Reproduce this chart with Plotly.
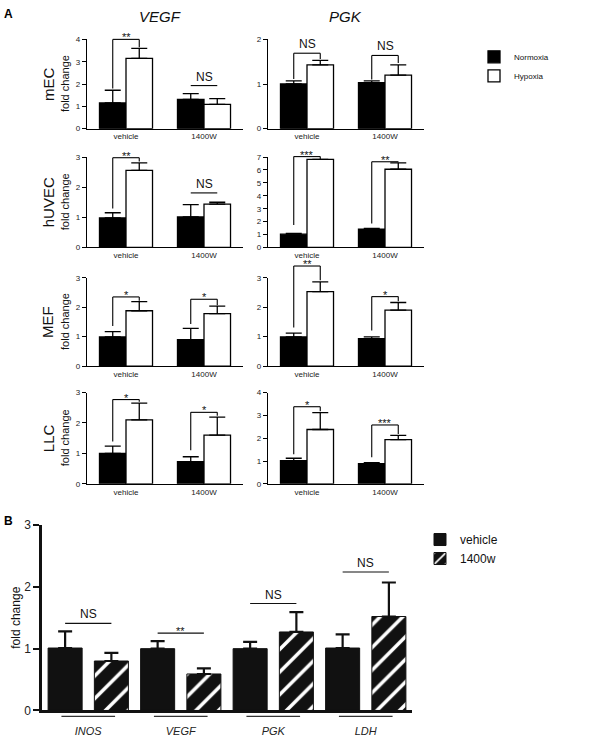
import plotly.graph_objects as go

W, H = 607, 741
FONT = "Arial, Liberation Sans, Helvetica, sans-serif"

# ---------------- Panel A data ----------------
treatments = ["vehicle", "1400W"]
cell_lines = ["mEC", "hUVEC", "MEF", "LLC"]
genes_A = ["VEGF", "PGK"]
ymax_VEGF = [4, 3, 3, 3]
ymax_PGK = [2, 7, 3, 4]

mEC_VEGF_normoxia = [1.15, 1.31]
mEC_VEGF_normoxia_sem = [0.57, 0.26]
mEC_VEGF_hypoxia = [3.15, 1.09]
mEC_VEGF_hypoxia_sem = [0.45, 0.26]
mEC_PGK_normoxia = [1.00, 1.03]
mEC_PGK_normoxia_sem = [0.07, 0.04]
mEC_PGK_hypoxia = [1.43, 1.20]
mEC_PGK_hypoxia_sem = [0.10, 0.23]

hUVEC_VEGF_normoxia = [0.98, 1.01]
hUVEC_VEGF_normoxia_sem = [0.17, 0.41]
hUVEC_VEGF_hypoxia = [2.56, 1.44]
hUVEC_VEGF_hypoxia_sem = [0.25, 0.06]
hUVEC_PGK_normoxia = [1.02, 1.42]
hUVEC_PGK_normoxia_sem = [0.07, 0.06]
hUVEC_PGK_hypoxia = [6.82, 6.06]
hUVEC_PGK_hypoxia_sem = [0.0, 0.50]

MEF_VEGF_normoxia = [0.99, 0.90]
MEF_VEGF_normoxia_sem = [0.18, 0.38]
MEF_VEGF_hypoxia = [1.88, 1.78]
MEF_VEGF_hypoxia_sem = [0.31, 0.26]
MEF_PGK_normoxia = [0.99, 0.93]
MEF_PGK_normoxia_sem = [0.13, 0.06]
MEF_PGK_hypoxia = [2.53, 1.90]
MEF_PGK_hypoxia_sem = [0.33, 0.26]

LLC_VEGF_normoxia = [1.00, 0.73]
LLC_VEGF_normoxia_sem = [0.24, 0.16]
LLC_VEGF_hypoxia = [2.10, 1.60]
LLC_VEGF_hypoxia_sem = [0.55, 0.59]
LLC_PGK_normoxia = [1.02, 0.88]
LLC_PGK_normoxia_sem = [0.10, 0.05]
LLC_PGK_hypoxia = [2.38, 1.94]
LLC_PGK_hypoxia_sem = [0.74, 0.18]

# significance: label, bracket height, left-leg end, right-leg end (None = plain line)
mEC_VEGF_sig = ["**", "NS"]
mEC_VEGF_sig_y = [4.0, 1.93]
mEC_VEGF_leg_left = [1.80, None]
mEC_VEGF_leg_right = [3.65, None]
mEC_PGK_sig = ["NS", "NS"]
mEC_PGK_sig_y = [1.69, 1.64]
mEC_PGK_leg_left = [1.11, 1.10]
mEC_PGK_leg_right = [1.56, 1.47]

hUVEC_VEGF_sig = ["**", "NS"]
hUVEC_VEGF_sig_y = [2.98, 1.81]
hUVEC_VEGF_leg_left = [1.29, None]
hUVEC_VEGF_leg_right = [2.85, None]
hUVEC_PGK_sig = ["***", "**"]
hUVEC_PGK_sig_y = [7.04, 6.64]
hUVEC_PGK_leg_left = [1.73, 1.86]
hUVEC_PGK_leg_right = [6.85, 6.60]

MEF_VEGF_sig = ["*", "*"]
MEF_VEGF_sig_y = [2.35, 2.27]
MEF_VEGF_leg_left = [1.36, 1.43]
MEF_VEGF_leg_right = [2.22, 2.07]
MEF_PGK_sig = ["**", "*"]
MEF_PGK_sig_y = [3.40, 2.36]
MEF_PGK_leg_left = [1.31, 1.21]
MEF_PGK_leg_right = [2.92, 2.20]

LLC_VEGF_sig = ["*", "*"]
LLC_VEGF_sig_y = [2.77, 2.35]
LLC_VEGF_leg_left = [1.39, 1.10]
LLC_VEGF_leg_right = [2.70, 2.24]
LLC_PGK_sig = ["*", "***"]
LLC_PGK_sig_y = [3.38, 2.58]
LLC_PGK_leg_left = [1.30, 1.17]
LLC_PGK_leg_right = [3.18, 2.18]

# ---------------- Panel B data ----------------
genes_B = ["INOS", "VEGF", "PGK", "LDH"]
vehicle_B = [1.01, 1.00, 1.00, 1.01]
vehicle_B_sem = [0.27, 0.12, 0.11, 0.22]
w1400_B = [0.80, 0.59, 1.27, 1.52]
w1400_B_sem = [0.13, 0.09, 0.32, 0.55]
sig_B = ["NS", "**", "NS", "NS"]
sig_B_y = [1.41, 1.25, 1.73, 2.24]

# ---------------- assemble ----------------
G = globals()
cols_px = [(87, 243), (268, 424)]
rows_px = [(33, 124), (153, 245), (276, 366), (393, 486)]
B_x_px = (42, 412)
B_y_px = (528, 717)

fig = go.Figure()
shapes = []
annotations = []
layout = {}

BW = 0.34  # bar width (category units)


def paper_text(text, xpx, ypx, size, angle=0, color="#111"):
    return dict(text=text, x=xpx / W, y=1 - ypx / H, xref="paper", yref="paper",
                xanchor="center", yanchor="middle", textangle=angle, showarrow=False,
                font=dict(size=size, color=color))


for r, cell in enumerate(cell_lines):
    for c, gene in enumerate(genes_A):
        k = r * 2 + c + 1
        xa = "x" if k == 1 else f"x{k}"
        ya = "y" if k == 1 else f"y{k}"
        ymax = (ymax_VEGF if gene == "VEGF" else ymax_PGK)[r]
        pre = f"{cell}_{gene}_"
        norm, norm_sem = G[pre + "normoxia"], G[pre + "normoxia_sem"]
        hyp, hyp_sem = G[pre + "hypoxia"], G[pre + "hypoxia_sem"]
        sig, sig_y = G[pre + "sig"], G[pre + "sig_y"]
        legL, legR = G[pre + "leg_left"], G[pre + "leg_right"]

        fig.add_trace(go.Bar(
            x=treatments, y=norm, name="Normoxia", xaxis=xa, yaxis=ya,
            width=BW, offset=-BW, legend="legend", showlegend=(k == 1),
            marker=dict(color="black", line=dict(color="black", width=1.3)),
            error_y=dict(type="data", array=norm_sem, arrayminus=[0] * len(norm),
                         symmetric=False, color="black", thickness=1.3, width=8),
        ))
        fig.add_trace(go.Bar(
            x=treatments, y=hyp, name="Hypoxia", xaxis=xa, yaxis=ya,
            width=BW, offset=0, legend="legend", showlegend=(k == 1),
            marker=dict(color="white", line=dict(color="black", width=1.3)),
            error_y=dict(type="data", array=hyp_sem, arrayminus=[0] * len(hyp),
                         symmetric=False, color="black", thickness=1.3, width=8),
        ))

        x0, x1 = cols_px[c]
        y0, y1 = rows_px[r]
        layout["xaxis" + ("" if k == 1 else str(k))] = dict(
            domain=[x0 / W, x1 / W], anchor=ya, type="category",
            categoryarray=treatments, range=[-0.5, 1.5],
            showline=True, linecolor="black", linewidth=1.3, ticks="",
            tickfont=dict(size=8, color="#222"), showgrid=False, zeroline=False,
        )
        layout["yaxis" + ("" if k == 1 else str(k))] = dict(
            domain=[1 - y1 / H, 1 - y0 / H], anchor=xa, range=[0, ymax],
            tick0=0, dtick=1, ticks="outside", ticklen=4, tickwidth=1,
            tickcolor="black", showline=True, linecolor="black", linewidth=1.3,
            tickfont=dict(size=8, color="#222"), showgrid=False, zeroline=False,
        )

        yd = f"{ya} domain"
        for i in range(len(treatments)):
            xn, xh = i - BW / 2, i + BW / 2
            top = sig_y[i] / ymax
            ln = dict(color="black", width=1.1)
            shapes.append(dict(type="line", xref=xa, yref=yd, x0=xn, x1=xh,
                               y0=top, y1=top, line=ln))
            if legL[i] is not None:
                shapes.append(dict(type="line", xref=xa, yref=yd, x0=xn, x1=xn,
                                   y0=legL[i] / ymax, y1=top, line=ln))
                shapes.append(dict(type="line", xref=xa, yref=yd, x0=xh, x1=xh,
                                   y0=legR[i] / ymax, y1=top, line=ln))
            is_star = "*" in sig[i]
            annotations.append(dict(
                text=sig[i], x=i, y=top, xref=xa, yref=yd, showarrow=False,
                xanchor="center", yanchor="bottom", yshift=-6 if is_star else 0,
                font=dict(size=11 if is_star else 12, color="#111"),
            ))

        if c == 0:
            ymid = (y0 + y1) / 2
            annotations.append(paper_text(cell, 48, ymid, 15, -90))
            annotations.append(paper_text("fold change", 65, ymid, 11, -90))

# column titles and panel letters
annotations.append(paper_text("<i>VEGF</i>", 160, 10, 15))
annotations.append(paper_text("<i>PGK</i>", 345, 10, 15))
annotations.append(paper_text("<b>A</b>", 8, 7, 12, color="black"))
annotations.append(paper_text("<b>B</b>", 8, 524, 12, color="black"))

# ---------------- Panel B ----------------
BWB = 0.368
fig.add_trace(go.Bar(
    x=genes_B, y=vehicle_B, name="vehicle", xaxis="x9", yaxis="y9",
    width=BWB, offset=-0.25 - BWB / 2, legend="legend2",
    marker=dict(color="#111", line=dict(color="#111", width=1)),
    error_y=dict(type="data", array=vehicle_B_sem, arrayminus=[0] * 4, symmetric=False,
                 color="#111", thickness=2.2, width=7),
))
fig.add_trace(go.Bar(
    x=genes_B, y=w1400_B, name="1400w", xaxis="x9", yaxis="y9",
    width=BWB, offset=0.25 - BWB / 2, legend="legend2",
    marker=dict(color="#111", line=dict(color="#111", width=1),
                pattern=dict(shape="/", fgcolor="white", bgcolor="#111",
                             size=16, solidity=0.22, fillmode="replace")),
    error_y=dict(type="data", array=w1400_B_sem, arrayminus=[0] * 4, symmetric=False,
                 color="#111", thickness=2.2, width=7),
))
layout["xaxis9"] = dict(
    domain=[B_x_px[0] / W, B_x_px[1] / W], anchor="y9", type="category",
    categoryarray=genes_B, range=[-0.5, 3.5], tickvals=genes_B,
    ticktext=[f"<i>{g}</i>" for g in genes_B], ticks="", ticklabelstandoff=9,
    showline=True, linecolor="#111", linewidth=2.5,
    tickfont=dict(size=11, color="#222"), showgrid=False, zeroline=False,
)
layout["yaxis9"] = dict(
    domain=[1 - B_y_px[1] / H, 1 - B_y_px[0] / H], anchor="x9", range=[0, 3],
    tick0=0, dtick=1, ticks="outside", ticklen=6, tickwidth=2, tickcolor="#111",
    showline=True, linecolor="#111", linewidth=2.5,
    tickfont=dict(size=12, color="#222"), showgrid=False, zeroline=False,
)
for i, g in enumerate(genes_B):
    shapes.append(dict(type="line", xref="x9", yref="y9", x0=i - 0.25, x1=i + 0.25,
                       y0=sig_B_y[i], y1=sig_B_y[i], line=dict(color="#111", width=1.2)))
    is_star = "*" in sig_B[i]
    annotations.append(dict(text=sig_B[i], x=i, y=sig_B_y[i], xref="x9", yref="y9",
                            xanchor="center", showarrow=False, yanchor="bottom",
                            yshift=-6 if is_star else 0,
                            font=dict(size=11 if is_star else 12, color="#111")))
    shapes.append(dict(type="line", xref="x9", yref="paper", x0=i - 0.29, x1=i + 0.29,
                       y0=1 - 723 / H, y1=1 - 723 / H, line=dict(color="#333", width=1.2)))
annotations.append(paper_text("fold change", 16, (B_y_px[0] + B_y_px[1]) / 2, 12, -90))

fig.update_layout(
    **layout,
    width=W, height=H, autosize=False,
    margin=dict(l=0, r=0, t=0, b=0),
    paper_bgcolor="white", plot_bgcolor="white",
    font=dict(family=FONT, color="#111"),
    barmode="group",
    shapes=shapes, annotations=annotations,
    legend=dict(x=474 / W, y=1 - 36 / H, xanchor="left", yanchor="top",
                font=dict(size=8, color="#111"), bgcolor="rgba(0,0,0,0)", tracegroupgap=0),
    legend2=dict(x=420 / W, y=1 - 528 / H, xanchor="left", yanchor="top",
                 font=dict(size=12, color="#111"), bgcolor="rgba(0,0,0,0)", tracegroupgap=0),
)

fig.write_html(
    "out.html",
    config={"displayModeBar": False},
    post_script="document.body.style.margin='0px';document.body.style.padding='0px';",
)
